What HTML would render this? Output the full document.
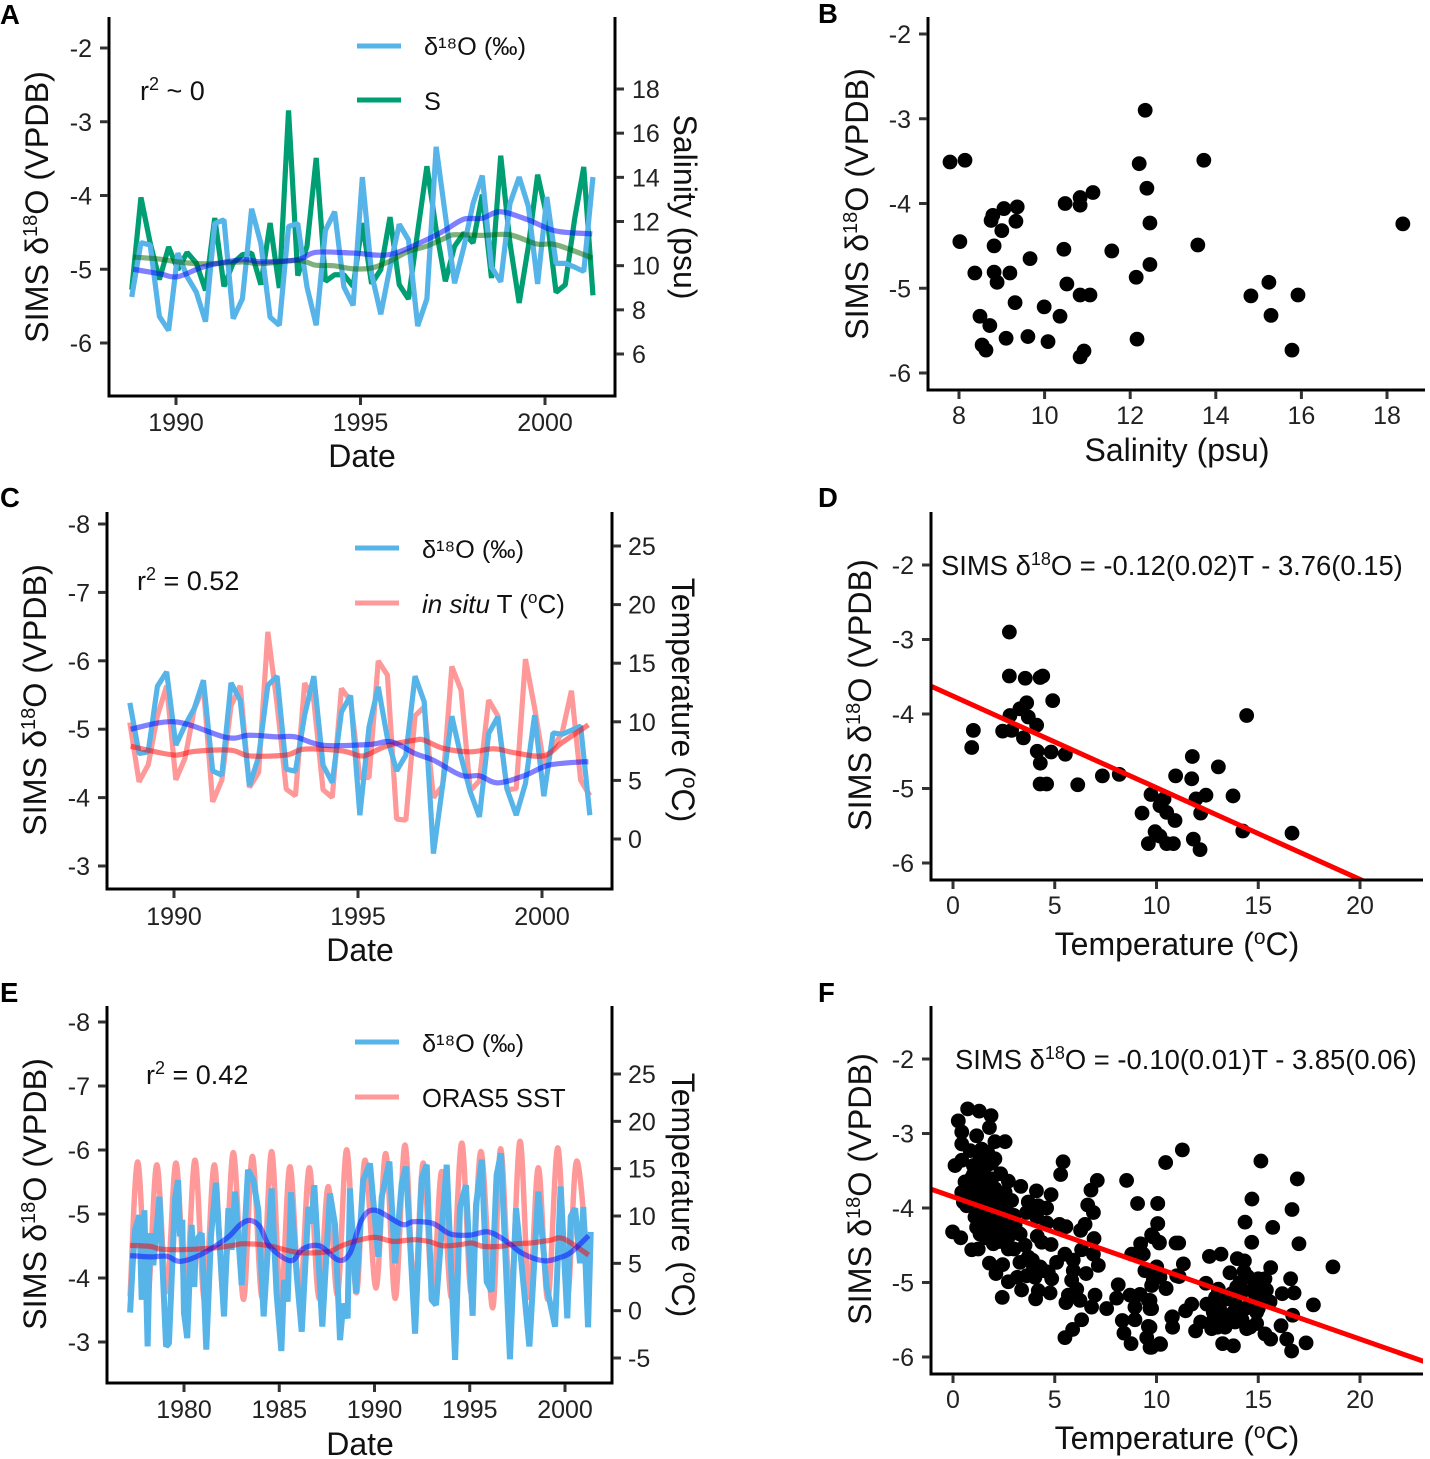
<!DOCTYPE html>
<html lang="en">
<head>
<meta charset="utf-8">
<title>SIMS d18O time series and scatter panels</title>
<style>
html,body{margin:0;padding:0;background:#fff;}
svg{display:block;font-family:"Liberation Sans",Arial,sans-serif;}
.tick{font-size:25px;fill:#222;}
.title{font-size:32px;fill:#111;}
.ytitle{font-size:32.3px;fill:#111;}
.rtitle{font-size:32px;fill:#111;}
.letter{font-size:27.5px;font-weight:bold;fill:#000;}
.note{font-size:27px;fill:#111;}
.eq{font-size:27.4px;fill:#111;}
.leg{font-size:25.3px;fill:#111;}
</style>
</head>
<body>
<svg id="figure" xmlns="http://www.w3.org/2000/svg" width="1430" height="1459" viewBox="0 0 1430 1459">
<defs>
<clipPath id="clip-d"><rect x="932" y="512" width="491" height="367"/></clipPath>
<clipPath id="clip-f"><rect x="932" y="1006" width="491" height="367"/></clipPath>
</defs>
<rect x="0" y="0" width="1430" height="1459" fill="#fff"/>

<g id="panel-a">
<text class="letter" x="0" y="24">A</text>
<text class="ytitle" transform="translate(48 207) rotate(-90)" text-anchor="middle">SIMS δ<tspan font-size="20" dy="-11">18</tspan><tspan dy="11">O (VPDB)</tspan></text>
<text class="rtitle" transform="translate(674 207) rotate(90)" text-anchor="middle">Salinity (psu)</text>
<text class="title" x="362" y="467" text-anchor="middle">Date</text>
<text class="note" x="140" y="100">r<tspan font-size="18" dy="-10">2</tspan><tspan dy="10"> ~ 0</tspan></text>
<line x1="357" x2="401" y1="46" y2="46" stroke="#56B4E9" stroke-width="5"/>
<text class="leg" x="424" y="55">δ¹⁸O (‰)</text>
<line x1="357" x2="401" y1="100" y2="100" stroke="#009E73" stroke-width="5"/>
<text class="leg" x="424" y="110">S</text>
</g>

<g id="panel-b">
<text class="letter" x="818" y="23">B</text>
<text class="ytitle" transform="translate(868 204) rotate(-90)" text-anchor="middle">SIMS δ<tspan font-size="20" dy="-11">18</tspan><tspan dy="11">O (VPDB)</tspan></text>
<text class="title" x="1177" y="461" text-anchor="middle">Salinity (psu)</text>
</g>

<g id="panel-c">
<text class="letter" x="0" y="507">C</text>
<text class="ytitle" transform="translate(46 700) rotate(-90)" text-anchor="middle">SIMS δ<tspan font-size="20" dy="-11">18</tspan><tspan dy="11">O (VPDB)</tspan></text>
<text class="rtitle" transform="translate(672 700) rotate(90)" text-anchor="middle">Temperature (<tspan font-size="21" dy="-11">o</tspan><tspan dy="11">C)</tspan></text>
<text class="title" x="360" y="961" text-anchor="middle">Date</text>
<text class="note" x="137" y="590">r<tspan font-size="18" dy="-10">2</tspan><tspan dy="10"> = 0.52</tspan></text>
<line x1="355" x2="399" y1="548" y2="548" stroke="#56B4E9" stroke-width="5"/>
<text class="leg" x="422" y="558">δ¹⁸O (‰)</text>
<line x1="355" x2="399" y1="603" y2="603" stroke="#FF9A9A" stroke-width="5"/>
<text class="leg" style="font-size:26px" x="422" y="613"><tspan font-style="italic">in situ</tspan> T (<tspan font-size="17" dy="-10">o</tspan><tspan dy="10">C)</tspan></text>
</g>

<g id="panel-d">
<text class="letter" x="818" y="507">D</text>
<text class="ytitle" transform="translate(871 695) rotate(-90)" text-anchor="middle">SIMS δ<tspan font-size="20" dy="-11">18</tspan><tspan dy="11">O (VPDB)</tspan></text>
<text class="title" x="1177" y="955" text-anchor="middle">Temperature (<tspan font-size="21" dy="-11">o</tspan><tspan dy="11">C)</tspan></text>
<text class="eq" x="941" y="575">SIMS δ<tspan font-size="18" dy="-10">18</tspan><tspan dy="10">O = -0.12(0.02)T - 3.76(0.15)</tspan></text>
</g>

<g id="panel-e">
<text class="letter" x="0" y="1002">E</text>
<text class="ytitle" transform="translate(46 1194) rotate(-90)" text-anchor="middle">SIMS δ<tspan font-size="20" dy="-11">18</tspan><tspan dy="11">O (VPDB)</tspan></text>
<text class="rtitle" transform="translate(672 1195) rotate(90)" text-anchor="middle">Temperature (<tspan font-size="21" dy="-11">o</tspan><tspan dy="11">C)</tspan></text>
<text class="title" x="360" y="1455" text-anchor="middle">Date</text>
<text class="note" x="146" y="1084">r<tspan font-size="18" dy="-10">2</tspan><tspan dy="10"> = 0.42</tspan></text>
<line x1="355" x2="399" y1="1042" y2="1042" stroke="#56B4E9" stroke-width="5"/>
<text class="leg" x="422" y="1052">δ¹⁸O (‰)</text>
<line x1="355" x2="399" y1="1097" y2="1097" stroke="#FF9A9A" stroke-width="5"/>
<text class="leg" style="font-size:25.6px" x="422" y="1107">ORAS5 SST</text>
</g>

<g id="panel-f">
<text class="letter" x="818" y="1002">F</text>
<text class="ytitle" transform="translate(871 1189) rotate(-90)" text-anchor="middle">SIMS δ<tspan font-size="20" dy="-11">18</tspan><tspan dy="11">O (VPDB)</tspan></text>
<text class="title" x="1177" y="1449" text-anchor="middle">Temperature (<tspan font-size="21" dy="-11">o</tspan><tspan dy="11">C)</tspan></text>
<text class="eq" x="955" y="1069">SIMS δ<tspan font-size="18" dy="-10">18</tspan><tspan dy="10">O = -0.10(0.01)T - 3.85(0.06)</tspan></text>
</g>
</svg>

<script>
/* ---------- data ---------- */
const seasonDates = [1988.80,1989.05,1989.30,1989.55,1989.80,1990.05,1990.30,1990.55,1990.80,1991.05,1991.30,1991.55,1991.80,1992.05,1992.30,1992.55,1992.80,1993.05,1993.30,1993.55,1993.80,1994.05,1994.30,1994.55,1994.80,1995.05,1995.30,1995.55,1995.80,1996.05,1996.30,1996.55,1996.80,1997.05,1997.30,1997.55,1997.80,1998.05,1998.30,1998.55,1998.80,1999.05,1999.30,1999.55,1999.80,2000.05,2000.30,2000.55,2000.80,2001.05,2001.30];

const aDelta = [-5.375,-4.64,-4.67,-5.64,-5.83,-4.78,-5.10,-5.31,-5.71,-4.38,-4.33,-5.67,-5.40,-4.18,-4.65,-5.65,-5.76,-4.42,-4.38,-5.24,-5.76,-4.47,-4.22,-5.24,-5.49,-3.75,-5.06,-5.61,-4.97,-4.39,-4.60,-5.77,-5.40,-3.34,-4.27,-5.19,-4.70,-4.11,-3.73,-4.97,-5.17,-4.11,-3.75,-4.15,-5.20,-4.02,-4.92,-4.92,-4.97,-5.03,-3.75];
const aSalinity = [8.91,13.09,11.03,9.37,10.85,9.82,10.60,10.12,8.88,12.16,9.06,10.12,10.50,10.57,9.14,11.93,8.99,17.03,9.55,10.88,14.88,9.29,9.59,9.59,9.06,11.93,9.18,9.82,12.20,9.14,8.49,11.55,14.50,11.63,9.29,10.88,11.48,11.03,13.22,9.44,14.98,11.03,8.31,10.88,14.12,12.23,8.79,9.14,12.08,14.47,8.66];
const aDeltaSmoothYears = [1988.84,1989.55,1990.05,1990.79,1991.80,1992.30,1993.30,1993.79,1994.79,1995.79,1996.79,1997.29,1997.80,1998.29,1998.79,1999.54,2000.29,2001.28];
const aDeltaSmooth = [-5.0,-5.06,-5.10,-4.96,-4.87,-4.90,-4.87,-4.77,-4.78,-4.80,-4.60,-4.47,-4.32,-4.31,-4.22,-4.33,-4.48,-4.52];
const aSalSmoothYears = [1988.84,1989.55,1990.05,1990.79,1991.80,1992.30,1993.30,1993.79,1994.26,1994.79,1995.29,1995.79,1996.30,1996.79,1997.29,1997.54,1998.29,1999.04,1999.78,2000.29,2001.28];
const aSalSmooth = [10.39,10.30,10.17,10.08,10.17,10.09,10.24,10.02,10.0,9.86,9.89,10.20,10.65,10.88,11.25,11.40,11.37,11.40,10.98,10.95,10.35];

const cDelta = [-5.385,-4.644,-4.669,-5.629,-5.838,-4.766,-5.058,-5.302,-5.716,-4.391,-4.327,-5.677,-5.424,-4.172,-4.596,-5.643,-5.775,-4.415,-4.386,-5.205,-5.775,-4.474,-4.220,-5.253,-5.492,-3.743,-5.034,-5.619,-4.864,-4.391,-4.620,-5.775,-5.400,-3.182,-4.181,-5.190,-4.596,-4.084,-3.718,-4.937,-5.180,-4.123,-3.743,-4.206,-5.205,-4.020,-4.946,-4.927,-4.985,-5.044,-3.743];
const cTemp = [9.94,4.88,6.33,10.51,13.07,5.05,6.90,11.08,12.93,3.17,5.02,11.37,13.07,4.40,5.68,17.68,11.51,4.25,3.69,13.30,11.79,4.20,3.54,12.84,11.79,5.25,5.25,15.20,13.98,1.70,1.61,10.51,11.28,3.54,4.54,14.72,12.70,4.11,4.97,11.85,10.51,4.20,4.31,15.35,11.17,6.39,7.81,9.09,12.65,5.02,3.69];
const cDeltaSmoothYears = [1988.82,1990.04,1991.43,1992.04,1992.79,1993.29,1994.04,1995.29,1995.91,1996.55,1997.05,1997.80,1998.30,1998.80,1999.55,2000.18,2001.07,2001.26];
const cDeltaSmooth = [-5.0,-5.107,-4.878,-4.912,-4.888,-4.888,-4.766,-4.776,-4.815,-4.644,-4.547,-4.327,-4.318,-4.215,-4.327,-4.474,-4.522,-4.522];
const cTempSmoothYears = [1988.82,1989.29,1990.04,1990.54,1991.54,1992.04,1993.04,1993.54,1994.54,1995.05,1995.29,1995.79,1996.55,1996.79,1997.30,1998.04,1998.55,1998.80,1999.30,2000.05,2000.55,2001.26];
const cTempSmooth = [7.92,7.58,7.16,7.47,7.58,7.10,7.16,7.67,7.53,7.10,7.24,7.95,8.44,8.44,7.75,7.44,7.67,7.67,7.33,7.10,8.24,9.74];

const eDeltaYears = [1977.17,1977.31,1977.43,1977.66,1977.78,1977.92,1978.09,1978.22,1978.39,1978.71,1979.06,1979.21,1979.53,1979.69,1979.79,1979.91,1980.00,1980.17,1980.40,1980.54,1980.63,1980.93,1981.17,1981.42,1981.68,1982.10,1982.33,1982.50,1982.68,1983.03,1983.36,1983.64,1983.90,1984.18,1984.60,1984.86,1985.11,1985.25,1985.44,1985.62,1985.91,1986.18,1986.53,1986.70,1986.84,1987.26,1987.66,1987.93,1988.19,1988.36,1988.59,1988.71,1989.03,1989.41,1989.76,1990.20,1990.38,1990.78,1991.08,1991.43,1991.65,1992.13,1992.48,1992.74,1993.00,1993.23,1993.79,1994.23,1994.49,1994.80,1995.15,1995.33,1995.63,1995.89,1996.15,1996.41,1996.64,1997.11,1997.43,1997.73,1998.13,1998.60,1999.04,1999.48,1999.77,2000.12,2000.30,2000.53,2000.79,2000.96,2001.21,2001.35];
const eDelta = [-3.46,-4.23,-4.75,-4.98,-3.66,-5.06,-2.93,-4.70,-4.20,-5.27,-2.93,-2.98,-5.24,-5.53,-4.65,-4.91,-3.45,-3.06,-4.83,-3.86,-4.59,-4.70,-2.88,-4.67,-5.49,-3.40,-5.09,-4.44,-5.35,-3.89,-5.69,-5.53,-5.06,-3.40,-5.40,-3.76,-2.86,-3.97,-3.63,-5.34,-4.07,-3.16,-5.11,-4.85,-5.45,-3.24,-5.32,-4.83,-3.03,-3.60,-3.37,-5.40,-3.76,-5.53,-5.79,-4.33,-5.27,-5.82,-4.23,-5.48,-5.74,-3.13,-5.56,-5.77,-3.66,-3.58,-5.77,-2.72,-5.11,-5.45,-3.41,-5.14,-5.85,-3.94,-3.79,-5.61,-5.95,-2.73,-5.09,-4.18,-2.93,-5.35,-3.86,-3.24,-5.43,-3.37,-4.96,-5.09,-4.23,-5.11,-3.23,-4.72];
const eSstYears = [1977.17,1977.57,1978.08,1978.57,1979.08,1979.58,1980.08,1980.58,1981.08,1981.59,1982.08,1982.59,1983.12,1983.59,1984.10,1984.60,1985.08,1985.56,1986.08,1986.58,1987.08,1987.57,1988.06,1988.54,1989.05,1989.50,1990.08,1990.59,1991.09,1991.60,1992.08,1992.56,1993.05,1993.53,1994.05,1994.58,1995.08,1995.59,1996.20,1996.62,1997.14,1997.64,1998.12,1998.60,1999.10,1999.62,2000.12,2000.61,2001.25];
const eSst = [1.5,15.7,1.3,15.4,2.0,15.6,1.8,15.9,1.0,15.4,1.5,16.7,1.2,16.3,1.4,16.8,1.0,15.2,1.5,15.1,1.3,13.1,1.7,17.0,1.9,15.9,2.4,16.6,1.3,17.5,1.5,15.6,1.8,14.7,1.4,17.7,1.8,16.8,0.3,17.1,1.2,17.9,1.4,15.1,1.2,17.2,1.4,15.8,3.5];
const eDeltaSmoothYears = [1977.17,1978.22,1979.09,1979.79,1980.84,1982.24,1982.94,1983.46,1983.99,1984.51,1985.60,1986.26,1987.14,1988.10,1988.71,1989.33,1990.03,1991.43,1992.04,1993.09,1993.96,1995.01,1995.98,1996.94,1997.73,1998.86,1999.74,2000.35,2001.24];
const eDeltaSmooth = [-4.35,-4.33,-4.34,-4.26,-4.36,-4.62,-4.83,-4.90,-4.80,-4.49,-4.27,-4.46,-4.50,-4.28,-4.39,-4.91,-5.06,-4.84,-4.88,-4.85,-4.69,-4.67,-4.72,-4.57,-4.39,-4.27,-4.32,-4.41,-4.66];
const eSstSmoothYears = [1977.17,1978.22,1978.74,1979.70,1980.66,1981.54,1982.59,1983.11,1984.34,1985.65,1986.44,1987.66,1988.19,1989.06,1990.03,1990.99,1992.04,1992.83,1993.61,1994.49,1995.10,1995.71,1996.59,1997.29,1998.16,1999.21,1999.91,2001.24];
const eSstSmooth = [6.90,6.79,6.51,6.44,6.51,6.62,6.90,7.07,6.90,6.27,6.09,6.27,6.79,7.39,7.74,7.32,7.50,7.32,6.86,6.97,7.15,6.79,6.79,7.04,7.15,7.43,7.60,5.88];

const bSalinity = [7.79,8.14,8.02,8.37,8.49,8.54,8.63,8.72,8.75,8.79,8.82,8.82,8.89,9.00,9.05,9.36,9.33,9.19,9.31,9.10,9.66,9.61,9.99,10.08,10.36,10.45,10.52,10.48,10.83,10.83,11.13,10.83,11.06,10.92,10.83,11.57,12.14,12.16,12.21,12.35,12.39,12.46,12.46,13.58,13.72,14.82,15.24,15.29,15.92,15.78,18.37];
const bDelta = [-3.51,-3.49,-4.45,-4.82,-5.33,-5.67,-5.73,-5.44,-4.20,-4.14,-4.50,-4.81,-4.93,-4.32,-4.06,-4.04,-4.21,-4.82,-5.17,-5.59,-4.65,-5.57,-5.22,-5.63,-5.33,-4.54,-4.95,-4.00,-3.93,-4.02,-3.87,-5.08,-5.08,-5.74,-5.81,-4.56,-4.87,-5.60,-3.53,-2.90,-3.82,-4.23,-4.72,-4.49,-3.49,-5.09,-4.93,-5.32,-5.08,-5.73,-4.24];

const dTemp = [2.77,2.77,3.55,4.28,4.41,4.90,3.62,3.29,2.80,3.70,4.11,2.44,2.88,1.00,0.92,3.46,4.14,4.82,5.52,4.29,4.28,4.60,6.13,7.34,8.17,9.73,10.37,10.17,10.50,10.91,9.29,9.93,10.17,9.60,10.50,10.83,11.81,12.14,10.94,11.73,11.76,13.04,12.43,11.94,12.17,13.76,14.24,14.43,16.66];
const dDelta = [-2.90,-3.49,-3.52,-3.51,-3.49,-3.82,-3.85,-3.93,-4.02,-4.04,-4.15,-4.23,-4.22,-4.22,-4.45,-4.32,-4.50,-4.51,-4.54,-4.66,-4.94,-4.94,-4.95,-4.83,-4.81,-5.08,-5.14,-5.23,-5.32,-5.43,-5.33,-5.58,-5.64,-5.74,-5.74,-5.74,-5.68,-5.82,-4.83,-4.87,-4.57,-4.71,-5.09,-5.14,-5.33,-5.10,-5.57,-4.02,-5.60];
const dFitSlope = -0.123;
const dFitIntercept = -3.76;

const fTemp = [0.72,1.29,1.87,0.26,1.79,0.43,1.16,0.43,2.06,2.56,0.84,1.41,2.06,1.33,0.10,0.43,1.00,1.65,1.33,2.34,2.72,3.33,1.90,1.33,0.59,0.43,0.92,1.49,2.06,2.56,0.51,1.00,1.57,2.15,2.88,0.67,1.16,1.82,2.39,1.08,1.65,2.23,2.80,1.16,1.74,2.39,3.05,1.33,1.98,2.56,1.57,2.72,1.98,1.24,2.72,-0.02,0.38,0.92,5.41,5.29,7.09,6.78,8.53,4.10,4.82,6.62,6.90,9.07,10.06,10.06,3.70,4.19,4.60,3.62,4.11,5.23,5.55,6.49,6.27,6.93,4.14,3.54,4.82,4.36,9.76,10.14,10.96,9.22,9.35,8.78,6.32,6.90,7.14,1.79,2.44,2.11,3.29,3.70,3.95,4.28,5.50,5.09,5.91,4.68,4.85,6.54,5.91,2.72,3.16,3.62,4.03,4.44,5.83,3.37,2.42,4.19,4.77,4.06,6.08,5.67,5.55,6.24,6.98,6.81,7.55,9.43,10.01,10.17,9.76,10.47,10.99,8.12,8.04,8.70,9.19,9.60,8.94,9.68,6.32,5.88,5.50,8.32,8.94,8.40,9.60,9.52,8.75,9.68,10.20,10.75,10.79,11.27,10.45,15.13,16.92,14.69,16.66,10.06,14.35,15.71,10.06,14.68,17.00,11.09,9.84,10.14,18.67,12.60,13.17,13.97,14.32,11.32,15.61,16.59,13.61,14.48,11.11,9.93,10.47,9.84,12.43,13.04,15.33,15.25,16.76,16.18,14.84,13.45,14.27,13.94,15.58,17.71,11.73,11.43,12.47,12.79,13.28,13.78,14.35,14.92,16.69,10.78,10.79,12.17,11.92,12.71,13.37,13.86,14.43,14.92,15.33,15.61,16.12,16.40,17.35,16.64,13.25,13.78,10.17,9.76,9.68,9.76,9.68,1.0,1.5,1.9,1.7,0.9,1.3,1.9,2.3,0.8,1.4,2.0,2.6,3.0,1.5,2.1,2.8,1.6,2.3,3.3,3.0,12.8,13.1,13.5,13.9,14.2,14.6,14.9,15.2,14.6,13.0,15.0,15.4,14.7,14.1,14.3,13.7,12.9,15.0,4.6,3.9];
const fDelta = [-2.67,-2.70,-2.76,-2.83,-2.92,-2.98,-3.03,-3.14,-3.11,-3.11,-3.23,-3.21,-3.34,-3.34,-3.43,-3.36,-3.43,-3.43,-3.50,-3.54,-3.64,-3.71,-3.61,-3.61,-3.65,-3.79,-3.74,-3.72,-3.74,-3.79,-3.92,-3.90,-3.85,-3.92,-3.90,-3.97,-4.03,-3.97,-4.03,-4.12,-4.15,-4.15,-4.12,-4.26,-4.21,-4.26,-4.23,-4.35,-4.35,-4.30,-4.28,-4.39,-4.48,-4.55,-4.55,-4.32,-4.40,-4.56,-3.38,-3.55,-3.63,-3.76,-3.63,-3.77,-3.82,-3.96,-4.06,-3.94,-3.94,-4.21,-3.92,-3.97,-4.00,-4.06,-4.12,-4.22,-4.25,-4.22,-4.30,-4.41,-4.38,-4.50,-4.49,-4.46,-4.36,-4.47,-4.47,-4.48,-4.62,-4.62,-4.56,-4.62,-4.77,-4.74,-4.76,-4.88,-4.73,-4.66,-4.79,-4.79,-4.62,-4.73,-4.70,-4.86,-4.95,-4.88,-4.84,-4.99,-4.93,-4.91,-4.93,-4.84,-4.97,-5.10,-5.20,-5.11,-5.14,-5.22,-5.09,-5.17,-5.27,-5.24,-5.17,-5.33,-5.35,-4.84,-4.79,-4.93,-5.04,-5.08,-4.91,-5.03,-5.21,-5.17,-5.16,-5.24,-5.33,-5.35,-5.50,-5.63,-5.74,-5.51,-5.50,-5.68,-5.59,-5.74,-5.82,-5.87,-5.83,-5.47,-5.60,-3.22,-3.39,-3.37,-3.61,-3.88,-4.02,-3.94,-4.19,-4.26,-4.21,-4.46,-4.48,-4.47,-4.39,-4.46,-4.79,-4.65,-4.62,-4.68,-4.71,-4.75,-4.80,-4.95,-4.87,-4.92,-4.92,-4.84,-5.08,-4.97,-5.01,-5.09,-4.95,-5.06,-5.14,-5.15,-5.15,-5.22,-5.11,-5.06,-5.26,-5.30,-5.29,-5.38,-5.29,-5.40,-5.47,-5.40,-5.35,-5.40,-5.44,-5.46,-5.60,-5.53,-5.65,-5.62,-5.60,-5.53,-5.62,-5.55,-5.69,-5.76,-5.58,-5.76,-5.81,-5.92,-5.82,-5.85,-5.82,-5.87,-5.60,-5.35,-5.24,-3.55,-3.50,-3.40,-3.25,-3.60,-3.80,-3.80,-3.85,-3.80,-4.00,-4.10,-4.00,-4.10,-4.15,-4.30,-4.25,-4.40,-4.45,-4.35,-4.55,-5.50,-5.35,-5.50,-5.30,-5.50,-5.30,-5.20,-5.20,-5.60,-5.60,-4.95,-5.10,-5.10,-5.00,-4.85,-5.15,-5.20,-5.35,-4.20,-4.70];
const fFitSlope = -0.0955;
const fFitIntercept = -3.85;

/* tick labels */
const timeTicksShort = [1990,1995,2000];
const timeTicksLong = [1980,1985,1990,1995,2000];
const aLeftTicks = [-2,-3,-4,-5,-6];
const aRightTicks = [18,16,14,12,10,8,6];
const bXTicks = [8,10,12,14,16,18];
const bYTicks = [-2,-3,-4,-5,-6];
const cLeftTicks = [-8,-7,-6,-5,-4,-3];
const cRightTicks = [25,20,15,10,5,0];
const dXTicks = [0,5,10,15,20];
const dYTicks = [-2,-3,-4,-5,-6];
const eLeftTicks = [-8,-7,-6,-5,-4,-3];
const eRightTicks = [25,20,15,10,5,0,-5];
const fXTicks = [0,5,10,15,20];
const fYTicks = [-2,-3,-4,-5,-6];

/* ---------- axis functions ---------- */
const NS = 'http://www.w3.org/2000/svg';
function scale(d0, r0, d1, r1) {
  const k = (r1 - r0) / (d1 - d0);
  return v => r0 + (v - d0) * k;
}
function group(id) { return document.getElementById(id); }

function addSegment(parent, name, x1, y1, x2, y2, color, width) {
  const el = document.createElementNS(NS, 'line');
  el.setAttribute('x1', x1);
  el.setAttribute('y1', y1);
  el.setAttribute('x2', x2);
  el.setAttribute('y2', y2);
  el.setAttribute('stroke', color);
  el.setAttribute('stroke-width', width);
  
  
  parent.appendChild(el);
  return el;
}
function addLabel(parent, name, x, y, label, anchor) {
  const el = document.createElementNS(NS, 'text');
  el.setAttribute('x', x);
  el.setAttribute('y', y);
  el.setAttribute('class', 'tick');
  el.setAttribute('text-anchor', anchor);
  el.textContent = label;
  
  
  parent.appendChild(el);
}
function drawAxes(parent, box, xScale, xTicks, yScale, yTicks, rScale, rTicks) {
  const S = '#000', T = '#333', W = 3;
  addSegment(parent, 'left-axis-line', box.left, box.top, box.left, box.bottom + 1.5, S, W);
  addSegment(parent, 'bottom-axis-line', box.left, box.bottom, box.right, box.bottom, S, W);
  xTicks.forEach(t => {
    addSegment(parent, 'x-tick-mark', xScale(t), box.bottom + 1, xScale(t), box.bottom + 9, T, W);
    addLabel(parent, 'x-tick-label', xScale(t), box.xLabelY, String(t), 'middle');
  });
  yTicks.forEach(t => {
    addSegment(parent, 'y-tick-mark', box.left - 9, yScale(t), box.left - 1, yScale(t), T, W);
    addLabel(parent, 'y-tick-label', box.left - 17, yScale(t) + 9, String(t), 'end');
  });
  if (rScale) {
    addSegment(parent, 'right-axis-line', box.right, box.top, box.right, box.bottom + 1.5, S, W);
    rTicks.forEach(t => {
      addSegment(parent, 'right-tick-mark', box.right + 1, rScale(t), box.right + 9, rScale(t), T, W);
      addLabel(parent, 'right-tick-label', box.right + box.rLabelGap, rScale(t) + 9, String(t), 'start');
    });
  }
}

/* ---------- mark functions ---------- */
function addPath(parent, name, d, color, width, opacity) {
  const el = document.createElementNS(NS, 'path');
  el.setAttribute('d', d);
  el.setAttribute('fill', 'none');
  el.setAttribute('stroke', color);
  el.setAttribute('stroke-width', width);
  el.setAttribute('stroke-opacity', opacity);
  el.setAttribute('stroke-linejoin', 'bevel');
  
  
  parent.appendChild(el);
}
function polyline(xs, ys, xScale, yScale) {
  return xs.map((x, i) => (i ? 'L' : 'M') + xScale(x).toFixed(2) + ' ' + yScale(ys[i]).toFixed(2)).join(' ');
}
function curve(xs, ys, xScale, yScale) {
  const p = xs.map((x, i) => [xScale(x), yScale(ys[i])]);
  let d = 'M' + p[0][0].toFixed(2) + ' ' + p[0][1].toFixed(2);
  for (let i = 0; i < p.length - 1; i++) {
    const a = p[Math.max(0, i - 1)], b = p[i], c = p[i + 1], e = p[Math.min(p.length - 1, i + 2)];
    const c1x = b[0] + (c[0] - a[0]) / 6, c1y = b[1] + (c[1] - a[1]) / 6;
    const c2x = c[0] - (e[0] - b[0]) / 6, c2y = c[1] - (e[1] - b[1]) / 6;
    d += ' C' + c1x.toFixed(2) + ' ' + c1y.toFixed(2) + ' ' + c2x.toFixed(2) + ' ' + c2y.toFixed(2) + ' ' + c[0].toFixed(2) + ' ' + c[1].toFixed(2);
  }
  return d;
}
function drawDots(parent, xs, ys, xScale, yScale) {
  xs.forEach((x, i) => {
    const el = document.createElementNS(NS, 'circle');
    el.setAttribute('cx', xScale(x).toFixed(2));
    el.setAttribute('cy', yScale(ys[i]).toFixed(2));
    el.setAttribute('r', 7.4);
    el.setAttribute('fill', '#000');
    
    
    parent.appendChild(el);
  });
}
function drawFit(parent, name, clipId, slope, intercept, tMin, tMax, xScale, yScale) {
  const el = document.createElementNS(NS, 'line');
  el.setAttribute('x1', xScale(tMin));
  el.setAttribute('y1', yScale(slope * tMin + intercept));
  el.setAttribute('x2', xScale(tMax));
  el.setAttribute('y2', yScale(slope * tMax + intercept));
  el.setAttribute('stroke', '#ff0000');
  el.setAttribute('stroke-width', 5);
  el.setAttribute('clip-path', 'url(#' + clipId + ')');
  
  
  parent.appendChild(el);
}

const BLUE = '#56B4E9', GREEN = '#009E73', PINK = '#ff0000';

/* Panel A */
(function () {
  const g = group('panel-a');
  const x = scale(1990, 176, 2000, 545), y = scale(-2, 48, -6, 343), r = scale(18, 89, 6, 354);
  addPath(g, 'salinity-line', polyline(seasonDates, aSalinity, x, r), GREEN, 5.2, 1);
  addPath(g, 'd18o-line', polyline(seasonDates, aDelta, x, y), BLUE, 5.2, 1);
  addPath(g, 'salinity-smooth', curve(aSalSmoothYears, aSalSmooth, x, r), '#006400', 5.2, 0.5);
  addPath(g, 'd18o-smooth', curve(aDeltaSmoothYears, aDeltaSmooth, x, y), '#0000ff', 5.2, 0.5);
  drawAxes(g, {left: 109, right: 615, top: 17, bottom: 396, xLabelY: 431, rLabelGap: 17}, x, timeTicksShort, y, aLeftTicks, r, aRightTicks);
})();

/* Panel B */
(function () {
  const g = group('panel-b');
  const x = scale(8, 959, 18, 1387), y = scale(-2, 34, -6, 373);
  drawDots(g, bSalinity, bDelta, x, y);
  drawAxes(g, {left: 928, right: 1425, top: 17, bottom: 390, xLabelY: 424}, x, bXTicks, y, bYTicks);
})();

/* Panel C */
(function () {
  const g = group('panel-c');
  const x = scale(1990, 174, 2000, 542), y = scale(-8, 524, -3, 866), r = scale(25, 546, 0, 839);
  addPath(g, 'temperature-line', polyline(seasonDates, cTemp, x, r), PINK, 5.2, 0.4);
  addPath(g, 'd18o-line', polyline(seasonDates, cDelta, x, y), BLUE, 5.2, 1);
  addPath(g, 'temperature-smooth', curve(cTempSmoothYears, cTempSmooth, x, r), PINK, 5.2, 0.5);
  addPath(g, 'd18o-smooth', curve(cDeltaSmoothYears, cDeltaSmooth, x, y), '#0000ff', 5.2, 0.5);
  drawAxes(g, {left: 107, right: 612, top: 512, bottom: 889, xLabelY: 925, rLabelGap: 16}, x, timeTicksShort, y, cLeftTicks, r, cRightTicks);
})();

/* Panel D */
(function () {
  const g = group('panel-d');
  const x = scale(0, 953, 20, 1360), y = scale(-2, 565, -6, 863);
  drawDots(g, dTemp, dDelta, x, y);
  drawFit(g, 'regression-line-d', 'clip-d', dFitSlope, dFitIntercept, -1.1, 23, x, y);
  drawAxes(g, {left: 931, right: 1423, top: 512, bottom: 880, xLabelY: 914}, x, dXTicks, y, dYTicks);
})();

/* Panel E */
(function () {
  const g = group('panel-e');
  const x = scale(1980, 184, 2000, 565), y = scale(-8, 1022, -3, 1342), r = scale(25, 1074, -5, 1358);
  addPath(g, 'sst-line', curve(eSstYears, eSst, x, r), PINK, 5.5, 0.4);
  addPath(g, 'd18o-line', polyline(eDeltaYears, eDelta, x, y), BLUE, 6, 1);
  addPath(g, 'sst-smooth', curve(eSstSmoothYears, eSstSmooth, x, r), PINK, 5.2, 0.5);
  addPath(g, 'd18o-smooth', curve(eDeltaSmoothYears, eDeltaSmooth, x, y), '#0000ff', 5.2, 0.5);
  drawAxes(g, {left: 107, right: 612, top: 1006, bottom: 1383, xLabelY: 1418, rLabelGap: 16}, x, timeTicksLong, y, eLeftTicks, r, eRightTicks);
})();

/* Panel F */
(function () {
  const g = group('panel-f');
  const x = scale(0, 953, 20, 1360), y = scale(-2, 1059, -6, 1357);
  drawDots(g, fTemp, fDelta, x, y);
  drawFit(g, 'regression-line-f', 'clip-f', fFitSlope, fFitIntercept, -1.1, 23.2, x, y);
  drawAxes(g, {left: 931, right: 1423, top: 1006, bottom: 1374, xLabelY: 1408}, x, fXTicks, y, fYTicks);
})();
</script>
</body>
</html>
